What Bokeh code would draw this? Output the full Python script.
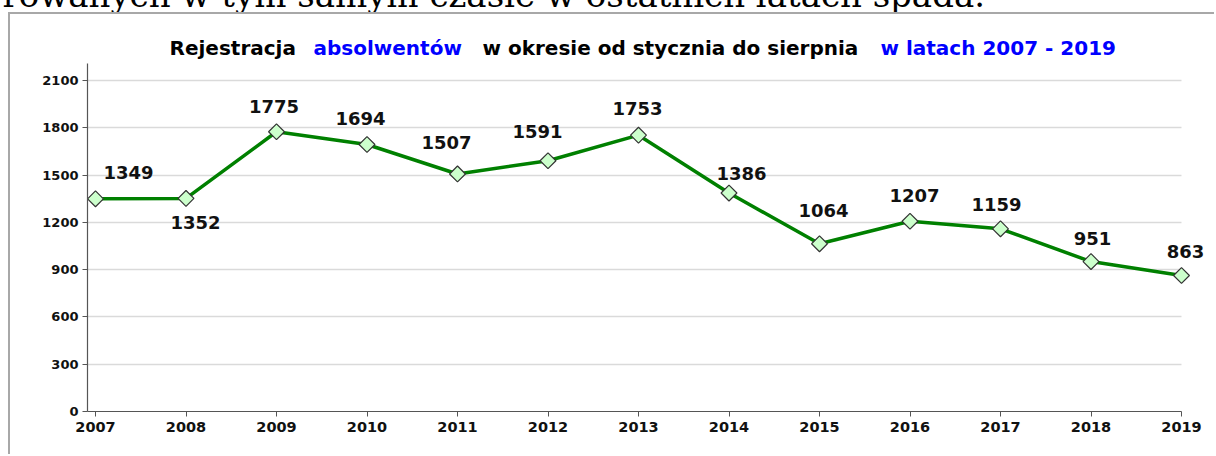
import numpy as np
from bokeh.plotting import figure
from bokeh.layouts import column
from bokeh.models import (ColumnDataSource, LabelSet, Label, FixedTicker,
                          Range1d, Div)
from bokeh.core.properties import value
from bokeh.embed import file_html
from bokeh.resources import INLINE

# ---- data ----
years = [2007, 2008, 2009, 2010, 2011, 2012, 2013, 2014, 2015, 2016, 2017, 2018, 2019]
values = [1349, 1352, 1775, 1694, 1507, 1591, 1753, 1386, 1064, 1207, 1159, 951, 863]
year_labels = [str(y) for y in years]
y_ticks = [0, 300, 600, 900, 1200, 1500, 1800, 2100]
title_parts = ["Rejestracja", "absolwentów", "w okresie od stycznia do sierpnia", "w latach 2007 - 2019"]
title_colors = ["#000000", "#0000ff", "#000000", "#0000ff"]
intro_text = "rowanych w tym samym czasie w ostatnich latach spada."

# ---- label placement (screen px) ----
label_dx = [8, 9.5, -2.4, -6.5, -11, -10.5, -1, 12.5, 4, 4.5, -4, 1.5, 4]
label_dy = [20, -31, 19, 19, 25, 23, 20, 13.5, 27, 19, 18, 17, 17]
label_align = ["left"] + ["center"] * 12

# cut-off line of text above the chart box
intro = Div(width=1216, height=12, margin=(0, 0, 0, 0),
            text=('<div style="position:relative; top:-22px; width:985px; '
                  'text-align:right; white-space:nowrap; '
                  "font-family:'DejaVu Serif'; font-size:34px; line-height:34px; "
                  'color:#000000;">' + intro_text + '</div>'))

p = figure(width=1206, height=442,
           x_range=Range1d(2006.9116, 2019.3204), y_range=Range1d(0, 2518.7),
           output_backend="svg", toolbar_location=None,
           min_border_left=77, min_border_right=6,
           min_border_top=0, min_border_bottom=45)
p.margin = (0, 0, 0, 8)
p.styles = {"border-left": "2px solid #a8a8a8", "border-top": "2px solid #a8a8a8"}
p.outline_line_color = None
p.background_fill_color = "white"
p.border_fill_color = "white"

# axes
p.xaxis.ticker = FixedTicker(ticks=years)
p.xaxis.major_label_overrides = {y: s for y, s in zip(years, year_labels)}
p.xaxis.bounds = (2006.9116, years[-1])
p.yaxis.ticker = FixedTicker(ticks=y_ticks)
p.yaxis.bounds = (0, 2208)
for ax in (p.xaxis, p.yaxis):
    ax.axis_line_color = "#555555"
    ax.axis_line_width = 1.2
    ax.major_tick_line_color = "#555555"
    ax.major_tick_out = 5
    ax.major_tick_in = 0
    ax.minor_tick_line_color = None
    ax.major_label_text_font = "DejaVu Sans"
    ax.major_label_text_font_style = "bold"
    ax.major_label_text_color = "#111111"
p.xaxis.major_label_text_font_size = "14.5px"
p.xaxis.major_label_standoff = 5
p.yaxis.major_label_text_font_size = "13px"
p.yaxis.major_label_standoff = 4

p.xgrid.grid_line_color = None
p.ygrid.ticker = FixedTicker(ticks=y_ticks)
p.ygrid.grid_line_color = "#dadada"
p.ygrid.grid_line_width = 1.3
try:
    p.ygrid.cross_bounds = (2006.9116, years[-1])
except Exception:
    pass

# series
src = ColumnDataSource(dict(x=years, y=values, txt=[str(v) for v in values],
                            dx=label_dx, dy=label_dy, al=label_align))
p.line("x", "y", source=src, line_color="#008000", line_width=3.5)
p.scatter("x", "y", source=src, marker="square", angle=np.pi / 4, size=11.2,
          fill_color="#ccffcc", line_color="#333333", line_width=1.2)

labels = LabelSet(x="x", y="y", text="txt", source=src,
                  x_offset="dx", y_offset="dy", text_align="al",
                  text_baseline="alphabetic",
                  text_font=value("DejaVu Sans"), text_font_style="bold",
                  text_font_size="18px", text_color="#111111")
p.add_layout(labels)

# title pieces (mixed colours)
title_x = [2007.818, 2009.409, 2011.276, 2015.674]
for t, c, xx in zip(title_parts, title_colors, title_x):
    p.add_layout(Label(x=xx, y=2303, text=t, text_color=c, text_align="left",
                       text_baseline="alphabetic", text_font="DejaVu Sans",
                       text_font_style="bold", text_font_size="20px"))

layout = column(intro, p, spacing=0)
open("out.html", "w").write(file_html(layout, INLINE))
